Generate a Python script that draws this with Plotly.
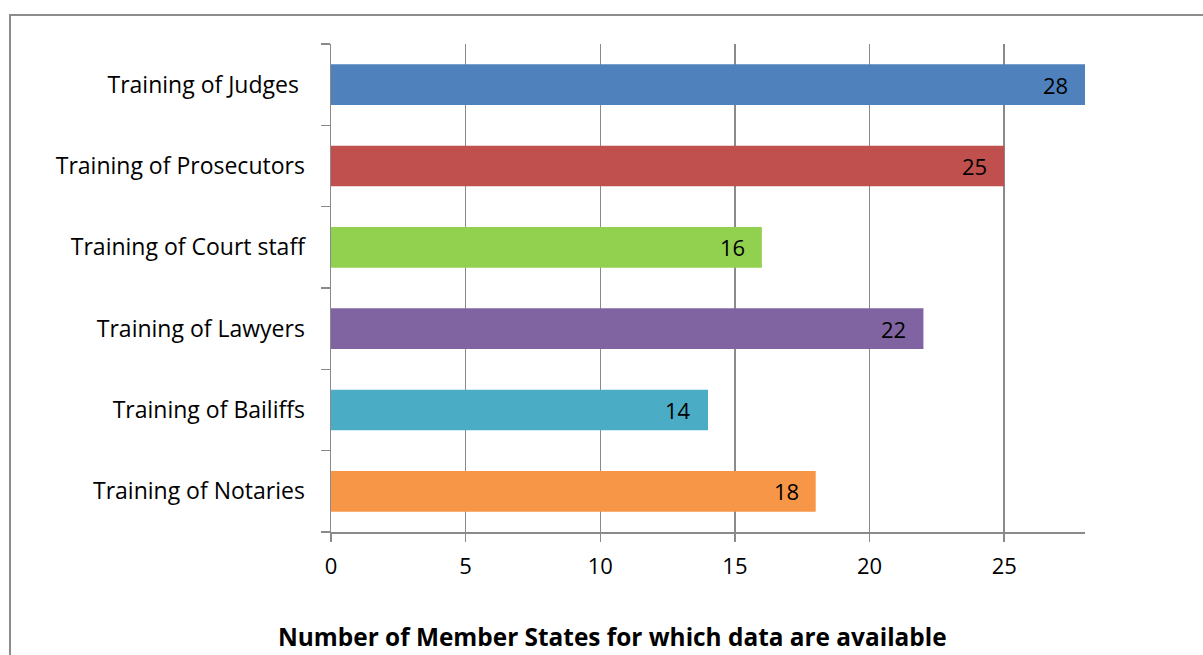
import plotly.graph_objects as go

categories = ["Training of Judges\u00a0", "Training of Prosecutors", "Training of Court staff",
              "Training of Lawyers", "Training of Bailiffs", "Training of Notaries"]
values = [28, 25, 16, 22, 14, 18]
colors = ["#4F81BD", "#C0504D", "#92D050", "#8064A2", "#4BACC6", "#F79646"]
x_ticks = [0, 5, 10, 15, 20, 25]
x_title = "Number of Member States for which data are available"

FONT = "Open Sans, Carlito, Calibri, sans-serif"
FS = 23
NUM_FS = 22
L, R, T, B = 331, 1085, 44, 532
W, H = 1203, 655
pw, ph = R - L, B - T

fig = go.Figure(go.Bar(
    x=values, y=categories, orientation="h",
    marker=dict(color=colors, line=dict(width=0)),
    hoverinfo="skip",
))

for c, v in zip(categories, values):
    fig.add_annotation(
        x=v, y=c, xref="x", yref="y", text=str(v), showarrow=False,
        xanchor="right", yanchor="middle", xshift=-15,
        font=dict(family=FONT, size=NUM_FS, color="black"),
    )

fig.update_layout(
    width=W, height=H,
    margin=dict(l=L, r=W - R, t=T, b=H - B, pad=0),
    paper_bgcolor="white", plot_bgcolor="white",
    bargap=0.5, showlegend=False,
    font=dict(family=FONT, size=FS, color="black"),
)
fig.update_xaxes(
    range=[0, 28], tickvals=x_ticks, ticktext=[str(t) for t in x_ticks],
    showgrid=True, gridcolor="#8A8A8A", gridwidth=1.5,
    showline=True, linecolor="#8A8A8A", linewidth=1.5,
    ticks="outside", ticklen=8, tickcolor="#8A8A8A", tickwidth=1.5,
    tickfont=dict(family=FONT, size=NUM_FS, color="black"),
    ticklabelstandoff=6, zeroline=False, fixedrange=True,
)
fig.update_yaxes(
    categoryorder="array", categoryarray=categories[::-1], type="category",
    showgrid=False, showline=True, linecolor="#8A8A8A", linewidth=1.5,
    ticks="outside", ticklen=9, tickcolor="#8A8A8A", tickwidth=1.5, tickson="boundaries",
    tickfont=dict(family=FONT, size=FS, color="black"),
    ticklabelstandoff=20, fixedrange=True,
)

fig.add_annotation(
    text="<b>" + x_title + "</b>", xref="paper", yref="paper",
    x=(612 - L) / pw, y=(B - 636) / ph, xanchor="center", yanchor="middle",
    showarrow=False, font=dict(family=FONT, size=24.4, color="black"),
)
fig.add_shape(
    type="rect", xref="paper", yref="paper",
    x0=(10 - L) / pw, x1=(1260 - L) / pw, y0=(B - 720) / ph, y1=(B - 15) / ph,
    line=dict(color="#8C8C8C", width=2), fillcolor="rgba(0,0,0,0)", layer="below",
)

fig.write_html(
    "out.html",
    config={"displayModeBar": False, "staticPlot": True},
    post_script="document.body.style.margin='0';document.body.style.overflow='hidden';",
)
